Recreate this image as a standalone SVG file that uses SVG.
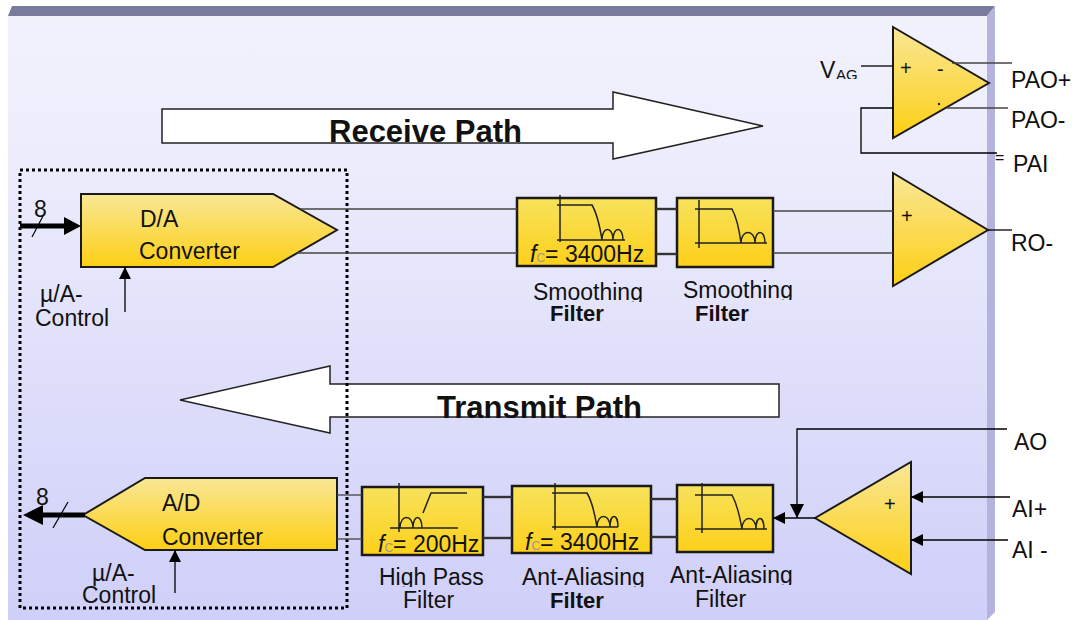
<svg xmlns="http://www.w3.org/2000/svg" width="1078" height="620" viewBox="0 0 1078 620">
<defs>
<linearGradient id="bg" x1="0" y1="0" x2="0" y2="1">
<stop offset="0" stop-color="#f2f2fd"/><stop offset="0.25" stop-color="#ececfc"/><stop offset="1" stop-color="#cfcff9"/>
</linearGradient>
<linearGradient id="yel" x1="0" y1="0" x2="0" y2="1">
<stop offset="0" stop-color="#f9e796"/><stop offset="1" stop-color="#fdcf14"/>
</linearGradient>
<linearGradient id="yelF" x1="0" y1="0" x2="0" y2="1">
<stop offset="0" stop-color="#f7e25c"/><stop offset="1" stop-color="#fdd01a"/>
</linearGradient>
<marker id="ah" markerUnits="userSpaceOnUse" viewBox="0 0 12 12" refX="12" refY="6" markerWidth="12" markerHeight="12" orient="auto">
<path d="M0,0L12,6L0,12z" fill="#000"/>
</marker>
<marker id="ahL" markerUnits="userSpaceOnUse" viewBox="0 0 14 14" refX="14" refY="7" markerWidth="14" markerHeight="14" orient="auto">
<path d="M0,0L14,7L0,14z" fill="#000"/>
</marker>
<clipPath id="cS1" clipPathUnits="userSpaceOnUse"><rect x="520" y="270" width="140" height="32"/></clipPath>
<clipPath id="cS2" clipPathUnits="userSpaceOnUse"><rect x="670" y="270" width="140" height="30"/></clipPath>
<clipPath id="cHP" clipPathUnits="userSpaceOnUse"><rect x="370" y="555" width="130" height="32"/></clipPath>
<clipPath id="cA1" clipPathUnits="userSpaceOnUse"><rect x="515" y="555" width="140" height="32"/></clipPath>
<clipPath id="cA2" clipPathUnits="userSpaceOnUse"><rect x="665" y="555" width="140" height="30"/></clipPath>
<clipPath id="cAG" clipPathUnits="userSpaceOnUse"><rect x="830" y="60" width="40" height="19"/></clipPath>
</defs>
<style>
text{font-family:"Liberation Sans",Arial,sans-serif;fill:#111}
.lbl{font-size:23px}
.b{font-weight:bold;font-size:22px}
.blk{fill:url(#yel);stroke:#1a1a1a;stroke-width:2}
.flt{fill:url(#yelF);stroke:#1a1a1a;stroke-width:2.5}
.crv{fill:none;stroke:#222;stroke-width:1.5}
.w{stroke:#444;stroke-width:1.3;fill:none}
.wb{stroke:#333;stroke-width:2.4;fill:none}
.k{stroke:#000;stroke-width:1.3;fill:none}
.bigarr{fill:#fff;stroke:#222;stroke-width:1.5}
.sub{font-size:12px;fill:#999}
.ttl{font-weight:bold;font-size:31px}
</style>

<g id="panel">
<rect x="8" y="16" width="979" height="604" fill="url(#bg)"/>
<polygon points="8,16 12,6 995,6 987,16" fill="#7a7a9c"/>
<polygon points="987,16 995,6 995,612 987,620" fill="#b3b3dd"/>
</g>

<g id="receive-path">
<polygon class="bigarr" points="162,109 613,109 613,92 763,126 613,159 613,143 162,143"/>
<text x="329" y="142" class="ttl">Receive Path</text>
</g>

<g id="transmit-path">
<polygon class="bigarr" points="779,384 330,384 330,366 180,400 330,433 330,417 779,417"/>
<text x="437" y="418" class="ttl">Transmit Path</text>
</g>

<g id="codec-box">
<rect x="20" y="170" width="327" height="438" fill="none" stroke="#000" stroke-width="3" stroke-dasharray="3 3"/>
</g>

<g id="da-converter">
<polygon class="blk" points="81,194 273,194 337,230 273,267 81,267"/>
<text x="140" y="227" class="lbl">D/A</text>
<text x="139" y="259" class="lbl">Converter</text>
</g>

<g id="da-input">
<line x1="20" y1="226" x2="66" y2="226" stroke="#000" stroke-width="5"/>
<polygon points="64,217 81,226 64,235" fill="#000"/>
<line x1="32" y1="237" x2="43" y2="216" stroke="#000" stroke-width="1.2"/>
<text x="34" y="217" class="lbl">8</text>
</g>

<g id="da-control">
<text x="40" y="302" class="lbl">µ/A-</text>
<text x="35" y="326" class="lbl">Control</text>
</g>

<g id="smoothing-filter-1">
<rect class="flt" x="517" y="198" width="139" height="68"/>
<path class="crv" d="M560,195V242M557,240H625M557,205H592Q598,215 602,240C602,226 613,226 613,240C613,226 623,226 623,240"/>
<text x="530" y="262" class="lbl"><tspan font-style="italic">f</tspan><tspan class="sub">C</tspan>= 3400Hz</text>
<text x="533" y="300" class="lbl" clip-path="url(#cS1)">Smoothing</text>
<text x="550" y="321" class="b">Filter</text>
</g>

<g id="smoothing-filter-2">
<rect class="flt" x="677" y="198" width="96" height="69"/>
<path class="crv" d="M699,200V248M695,243H767M695,209H732Q738,220 741,243C741,229 755,229 755,243C755,229 765,229 765,243"/>
<text x="683" y="298" class="lbl" clip-path="url(#cS2)">Smoothing</text>
<text x="695" y="321" class="b">Filter</text>
</g>

<g id="pa-amp">
<polygon class="blk" points="893,27 989,83 893,138"/>
<text x="900" y="75" font-size="20">+</text>
<text x="937" y="76" font-size="20">-</text>
<circle cx="939" cy="104" r="1.2" fill="#222"/>
</g>

<g id="ro-amp">
<polygon class="blk" points="893,173 988,230 893,286"/>
<text x="901" y="223" font-size="20">+</text>
</g>

<g id="ad-converter">
<polygon class="blk" points="83,515 145,478 337,478 337,550 145,550"/>
<text x="162" y="511" class="lbl">A/D</text>
<text x="162" y="545" class="lbl">Converter</text>
</g>

<g id="ad-output">
<line x1="40" y1="515" x2="85" y2="515" stroke="#000" stroke-width="5"/>
<polygon points="43,505 23,515 43,525" fill="#000"/>
<line x1="53" y1="528" x2="68" y2="502" stroke="#000" stroke-width="1.2"/>
<text x="36" y="505" class="lbl">8</text>
</g>

<g id="ad-control">
<text x="92" y="581" class="lbl">µ/A-</text>
<text x="82" y="603" class="lbl">Control</text>
</g>

<g id="high-pass-filter">
<rect class="flt" x="362" y="487" width="121" height="68"/>
<path class="crv" d="M399,483V532M390,528H458M400,528C400,514 413,514 413,528C413,514 422,514 422,528M423,513L431,493H467"/>
<text x="378" y="552" class="lbl"><tspan font-style="italic">f</tspan><tspan class="sub">C</tspan>= 200Hz</text>
<text x="379" y="585" class="lbl" clip-path="url(#cHP)">High Pass</text>
<text x="403" y="608" class="lbl">Filter</text>
</g>

<g id="anti-aliasing-filter-1">
<rect class="flt" x="512" y="486" width="139" height="67"/>
<path class="crv" d="M555,483V530M552,527H618M552,493H587Q593,503 597,527C597,513 610,513 610,527C610,513 618,513 618,527"/>
<text x="525" y="550" class="lbl"><tspan font-style="italic">f</tspan><tspan class="sub">C</tspan>= 3400Hz</text>
<text x="522" y="585" class="lbl" clip-path="url(#cA1)">Ant-Aliasing</text>
<text x="550" y="608" class="b">Filter</text>
</g>

<g id="anti-aliasing-filter-2">
<rect class="flt" x="677" y="485" width="96" height="67"/>
<path class="crv" d="M702,483V533M695,529H767M695,495H732Q738,506 742,529C742,515 756,515 756,529C756,515 764,515 764,529"/>
<text x="670" y="583" class="lbl" clip-path="url(#cA2)">Ant-Aliasing</text>
<text x="695" y="607" class="lbl">Filter</text>
</g>

<g id="tx-amp">
<polygon class="blk" points="815,518 911,462 911,574"/>
<text x="884" y="511" font-size="20">+</text>
</g>

<g id="pin-labels">
<text x="820" y="78" class="lbl">V</text>
<text x="836" y="80" font-size="15" clip-path="url(#cAG)">AG</text>
<text x="1011" y="88" class="lbl">PAO+</text>
<text x="1011" y="128" class="lbl">PAO-</text>
<text x="995" y="163" font-size="16">=</text>
<text x="1013" y="172" class="lbl">PAI</text>
<text x="1011" y="251" class="lbl">RO-</text>
<text x="1014" y="450" class="lbl">AO</text>
<text x="1012" y="517" class="lbl">AI+</text>
<text x="1012" y="558" class="lbl">AI -</text>
</g>

<g id="connectors">
<line class="k" x1="125" y1="312" x2="125" y2="267" marker-end="url(#ah)"/>
<line class="k" x1="175" y1="593" x2="175" y2="550" marker-end="url(#ah)"/>
<line class="w" x1="300" y1="209" x2="517" y2="209"/>
<line class="w" x1="297" y1="253" x2="517" y2="253"/>
<line class="wb" x1="656" y1="209" x2="677" y2="209"/>
<line class="wb" x1="656" y1="254" x2="677" y2="254"/>
<line class="w" x1="773" y1="211" x2="893" y2="211"/>
<line class="w" x1="773" y1="253" x2="893" y2="253"/>
<line class="k" x1="861" y1="66" x2="893" y2="66"/>
<line class="w" x1="952" y1="63" x2="1012" y2="63"/>
<line class="w" x1="947" y1="108" x2="1008" y2="108"/>
<polyline class="k" points="893,108 861,108 861,153 997,153"/>
<line class="k" x1="988" y1="230" x2="1012" y2="230"/>
<line class="w" x1="337" y1="495" x2="362" y2="495"/>
<line class="w" x1="337" y1="539" x2="362" y2="539"/>
<line class="wb" x1="483" y1="497" x2="512" y2="497"/>
<line class="wb" x1="483" y1="538" x2="512" y2="538"/>
<line class="wb" x1="651" y1="499" x2="677" y2="499"/>
<line class="wb" x1="651" y1="537" x2="677" y2="537"/>
<line class="k" x1="815" y1="518" x2="773" y2="518" marker-end="url(#ah)"/>
<polyline class="k" points="1007,429 797,429 797,518" marker-end="url(#ahL)"/>
<line class="k" x1="1010" y1="497" x2="911" y2="497" marker-end="url(#ah)"/>
<line class="k" x1="1008" y1="540" x2="911" y2="540" marker-end="url(#ah)"/>
</g>
</svg>
